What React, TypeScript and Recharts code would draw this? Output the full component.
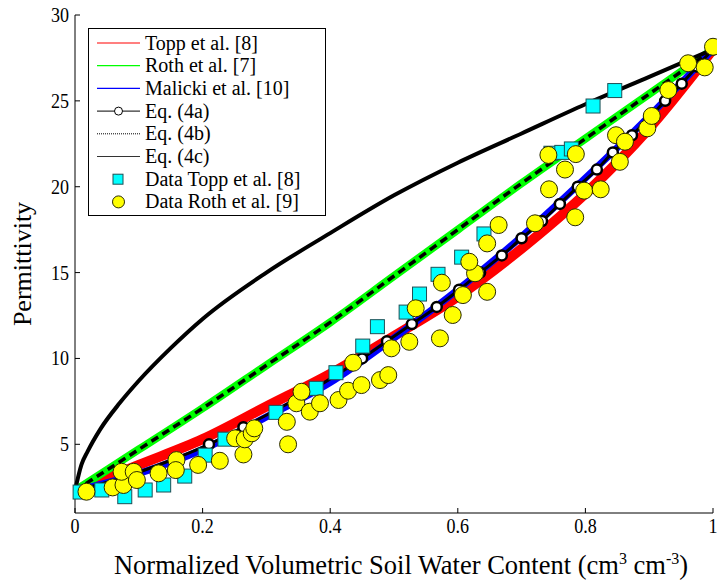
import { ComposedChart, Line, Scatter, XAxis, YAxis, Legend } from 'recharts'

// model curves
const curveX = [0, 0.1, 0.2, 0.3, 0.4, 0.5, 0.6, 0.7, 0.8, 0.9, 1]
const toppCurve = [2.3, 3.8, 5.3, 7.2, 9.1, 11.3, 13.6, 16.4, 19.6, 23.4, 28.0]
const rothCurve = [2.3, 4.7, 7.1, 9.6, 12.1, 14.8, 17.5, 20.2, 22.8, 25.4, 28.0]
const malickiCurve = [2.3, 3.3, 4.7, 6.6, 8.6, 11.2, 14.0, 17.1, 20.5, 24.1, 28.0]

const eq4aX = [0, 0.07, 0.145, 0.21, 0.264, 0.315, 0.364, 0.408, 0.45, 0.489, 0.528, 0.567, 0.602, 0.635, 0.669, 0.7, 0.732, 0.76, 0.788, 0.818, 0.843, 0.873, 0.9, 0.925, 0.951, 0.975, 1]
const eq4aY = [2.3, 3, 4, 5, 6, 7, 8, 9, 10, 11, 12, 13, 14, 15, 16, 17, 18, 19, 20, 21, 22, 23, 24, 25, 26, 27, 28]
// markers that show on the Eq. (4a) curve
const eq4aMarkX = [0.21, 0.264, 0.45, 0.489, 0.528, 0.567, 0.602, 0.635, 0.669, 0.7, 0.732, 0.76, 0.788, 0.818, 0.843, 0.873, 0.9, 0.925, 0.951, 0.975, 1]
const eq4aMarkY = [5, 6, 10, 11, 12, 13, 14, 15, 16, 17, 18, 19, 20, 21, 22, 23, 24, 25, 26, 27, 28]

const eq4cX = [0, 0.01, 0.02, 0.04, 0.07, 0.1, 0.15, 0.2, 0.3, 0.4, 0.5, 0.6, 0.7, 0.8, 0.9, 1]
const eq4cY = [2.3, 3.8, 4.6, 5.9, 7.4, 8.7, 10.6, 12.3, 15.0, 17.3, 19.5, 21.4, 23.1, 24.8, 26.4, 28.0]

// measured data
const toppDataX = [0.008, 0.042, 0.078, 0.11, 0.139, 0.172, 0.204, 0.235, 0.315, 0.378, 0.409, 0.451, 0.474, 0.519, 0.54, 0.569, 0.606, 0.641, 0.746, 0.763, 0.778, 0.812, 0.846]
const toppDataY = [2.22, 2.34, 1.95, 2.34, 2.63, 3.15, 4.37, 5.3, 6.86, 8.26, 9.17, 10.72, 11.85, 12.7, 13.75, 14.9, 15.9, 17.25, 21.95, 22.0, 22.2, 24.7, 25.6]

const rothDataX = [0.018, 0.059, 0.076, 0.073, 0.092, 0.097, 0.131, 0.159, 0.158, 0.193, 0.227, 0.264, 0.251, 0.266, 0.277, 0.281, 0.332, 0.334, 0.347, 0.355, 0.368, 0.384, 0.413, 0.428, 0.449, 0.478, 0.491, 0.436, 0.496, 0.524, 0.572, 0.534, 0.592, 0.608, 0.575, 0.646, 0.627, 0.618, 0.646, 0.664, 0.721, 0.784, 0.743, 0.798, 0.742, 0.768, 0.785, 0.824, 0.854, 0.848, 0.862, 0.897, 0.904, 0.93, 0.961, 0.987, 1.0]
const rothDataY = [2.24, 2.49, 2.63, 3.4, 3.4, 2.92, 3.31, 4.08, 3.5, 3.8, 4.04, 4.41, 5.35, 5.29, 5.64, 5.93, 6.31, 5.0, 7.39, 8.06, 6.9, 7.39, 7.58, 8.12, 8.45, 8.74, 9.03, 9.75, 10.59, 10.97, 11.17, 12.92, 12.53, 13.69, 14.41, 13.88, 14.96, 15.63, 16.7, 17.77, 17.87, 18.22, 19.85, 19.77, 21.85, 21.0, 21.9, 19.85, 21.45, 23.0, 22.62, 23.4, 24.12, 25.63, 27.19, 26.95, 28.15]

const xTicks = [0, 0.2, 0.4, 0.6, 0.8, 1]
const yTicks = [5, 10, 15, 20, 25, 30]

const legendLabels = ['Topp et al. [8]', 'Roth et al. [7]', 'Malicki et al. [10]', 'Eq. (4a)', 'Eq. (4b)', 'Eq. (4c)', 'Data Topp et al. [8]', 'Data Roth et al. [9]']

const zip = (xs: number[], ys: number[]) => xs.map((x, i) => ({ x, y: ys[i] }))

const toppLine = zip(curveX, toppCurve)
const rothLine = zip(curveX, rothCurve)
const malickiLine = zip(curveX, malickiCurve)
const eq4aLine = zip(eq4aX, eq4aY)
const eq4aMarks = zip(eq4aMarkX, eq4aMarkY)
const eq4cLine = zip(eq4cX, eq4cY)
const toppData = zip(toppDataX, toppDataY)
const rothData = zip(rothDataX, rothDataY)

const serif = { fontFamily: 'Liberation Serif, Times New Roman, serif' }

const XTick = (props: any) => {
  const { x, y, payload } = props
  return (
    <g transform={`translate(${x},${y})`}>
      <text transform="scale(0.82,1)" textAnchor="middle" dy={13} style={serif} fontSize={22} fill="#000">
        {payload.value}
      </text>
    </g>
  )
}

const YTick = (props: any) => {
  const { x, y, payload } = props
  return (
    <g transform={`translate(${x},${y})`}>
      <text transform="scale(0.82,1)" textAnchor="end" dy={7} style={serif} fontSize={22} fill="#000">
        {payload.value}
      </text>
    </g>
  )
}

const NoLabel = () => <g />

const Square = (props: any) => {
  const { cx, cy } = props
  return <rect x={cx - 7} y={cy - 7} width={14} height={14} fill="#00ffff" stroke="#1f4f55" strokeWidth={1} />
}

const Circle = (props: any) => {
  const { cx, cy } = props
  return <circle cx={cx} cy={cy} r={8.5} fill="#ffff00" stroke="#2a2a00" strokeWidth={1} />
}

const Ring = (props: any) => {
  const { cx, cy } = props
  return <circle cx={cx} cy={cy} r={5} fill="#fff" stroke="#000" strokeWidth={2.5} />
}

const LegendBox = () => {
  const rowH = 22.7
  return (
    <svg width={238} height={188} style={{ display: 'block' }}>
      <rect x={0.5} y={0.5} width={237} height={187} fill="#fff" stroke="#000" strokeWidth={1} />
      {legendLabels.map((label, i) => {
        const cy = 15 + i * rowH
        let sym = null
        if (i === 0) sym = <line x1={9} x2={52} y1={cy} y2={cy} stroke="#ff0000" strokeWidth={1.2} />
        if (i === 1) sym = <line x1={9} x2={52} y1={cy} y2={cy} stroke="#00ff00" strokeWidth={1.2} />
        if (i === 2) sym = <line x1={9} x2={52} y1={cy} y2={cy} stroke="#0000ff" strokeWidth={1.2} />
        if (i === 3)
          sym = (
            <g>
              <line x1={9} x2={52} y1={cy} y2={cy} stroke="#000" strokeWidth={1} />
              <circle cx={30.5} cy={cy} r={4} fill="#fff" stroke="#000" strokeWidth={1} />
            </g>
          )
        if (i === 4) sym = <line x1={9} x2={52} y1={cy} y2={cy} stroke="#000" strokeWidth={1} strokeDasharray="1 1" />
        if (i === 5) sym = <line x1={9} x2={52} y1={cy} y2={cy} stroke="#333" strokeWidth={1} />
        if (i === 6) sym = <rect x={25} y={cy - 5} width={10} height={10} fill="#00ffff" stroke="#1f4f55" strokeWidth={1} />
        if (i === 7) sym = <circle cx={30.5} cy={cy} r={6} fill="#ffff00" stroke="#2a2a00" strokeWidth={1} />
        return (
          <g key={label}>
            {sym}
            <text x={57} y={cy + 6.5} style={serif} fontSize={20} fill="#000">
              {label}
            </text>
          </g>
        )
      })}
    </svg>
  )
}

const XLabel = (props: any) => {
  const { viewBox } = props
  const cx = viewBox.x + viewBox.width / 2 + 7
  return (
    <text x={cx} y={viewBox.y + 61} textAnchor="middle" style={serif} fontSize={26.5} fill="#000">
      Normalized Volumetric Soil Water Content (cm
      <tspan dy={-10} fontSize={16}>3</tspan>
      <tspan dy={10}> cm</tspan>
      <tspan dy={-10} fontSize={16}>-3</tspan>
      <tspan dy={10}>)</tspan>
    </text>
  )
}

const YLabel = (props: any) => {
  const { viewBox } = props
  const cy = viewBox.y + viewBox.height / 2
  return (
    <text x={31} y={cy} transform={`rotate(-90, 31, ${cy})`} textAnchor="middle" style={serif} fontSize={26} fill="#000">
      Permittivity
    </text>
  )
}

export default function App() {
  return (
    <div style={{ position: 'absolute', left: 0, top: 0, background: '#fff' }}>
      <ComposedChart width={717} height={583} margin={{ top: 15, right: 4, bottom: 0, left: 0 }}>
        <XAxis
          xAxisId="main"
          type="number"
          dataKey="x"
          domain={[0, 1]}
          ticks={xTicks}
          height={70}
          stroke="#000"
          tickSize={-5}
          tickMargin={12}
          tick={<XTick />}
          label={<XLabel />}
        />
        <XAxis xAxisId="top" orientation="top" type="number" domain={[0, 1]} ticks={xTicks} height={0} stroke="#000" tickSize={-5} tick={<NoLabel />} />
        <YAxis
          yAxisId="main"
          type="number"
          dataKey="y"
          domain={[1, 30]}
          ticks={yTicks}
          width={75}
          stroke="#000"
          tickSize={-5}
          tickMargin={11}
          tick={<YTick />}
          label={<YLabel />}
        />
        <YAxis yAxisId="right" orientation="right" type="number" domain={[1, 30]} ticks={yTicks} width={0} stroke="#000" tickSize={-5} tick={<NoLabel />} />
        <Line xAxisId="main" yAxisId="main" data={toppLine} dataKey="y" type="monotone" stroke="#ff0000" strokeWidth={10} dot={false} isAnimationActive={false} legendType="none" />
        <Line xAxisId="main" yAxisId="main" data={rothLine} dataKey="y" type="monotone" stroke="#00ff00" strokeWidth={8} dot={false} isAnimationActive={false} legendType="none" />
        <Line xAxisId="main" yAxisId="main" data={malickiLine} dataKey="y" type="monotone" stroke="#0000ff" strokeWidth={7} dot={false} isAnimationActive={false} legendType="none" />
        <Line xAxisId="main" yAxisId="main" data={eq4aLine} dataKey="y" type="monotone" stroke="#000" strokeWidth={3} dot={false} isAnimationActive={false} legendType="none" />
        <Scatter xAxisId="main" yAxisId="main" data={eq4aMarks} dataKey="y" shape={<Ring />} isAnimationActive={false} legendType="none" />
        <Line xAxisId="main" yAxisId="main" data={rothLine} dataKey="y" type="monotone" stroke="#000" strokeWidth={3.5} strokeDasharray="8 5" dot={false} isAnimationActive={false} legendType="none" />
        <Line xAxisId="main" yAxisId="main" data={eq4cLine} dataKey="y" type="monotone" stroke="#000" strokeWidth={4} dot={false} isAnimationActive={false} legendType="none" />
        <Scatter xAxisId="main" yAxisId="main" data={toppData} dataKey="y" shape={<Square />} isAnimationActive={false} legendType="none" />
        <Scatter xAxisId="main" yAxisId="main" data={rothData} dataKey="y" shape={<Circle />} isAnimationActive={false} legendType="none" />
        <Legend
          layout="vertical"
          align="center"
          verticalAlign="middle"
          content={<LegendBox />}
          wrapperStyle={{ left: 88, top: 28, width: 238, height: 188 }}
        />
      </ComposedChart>
    </div>
  )
}
